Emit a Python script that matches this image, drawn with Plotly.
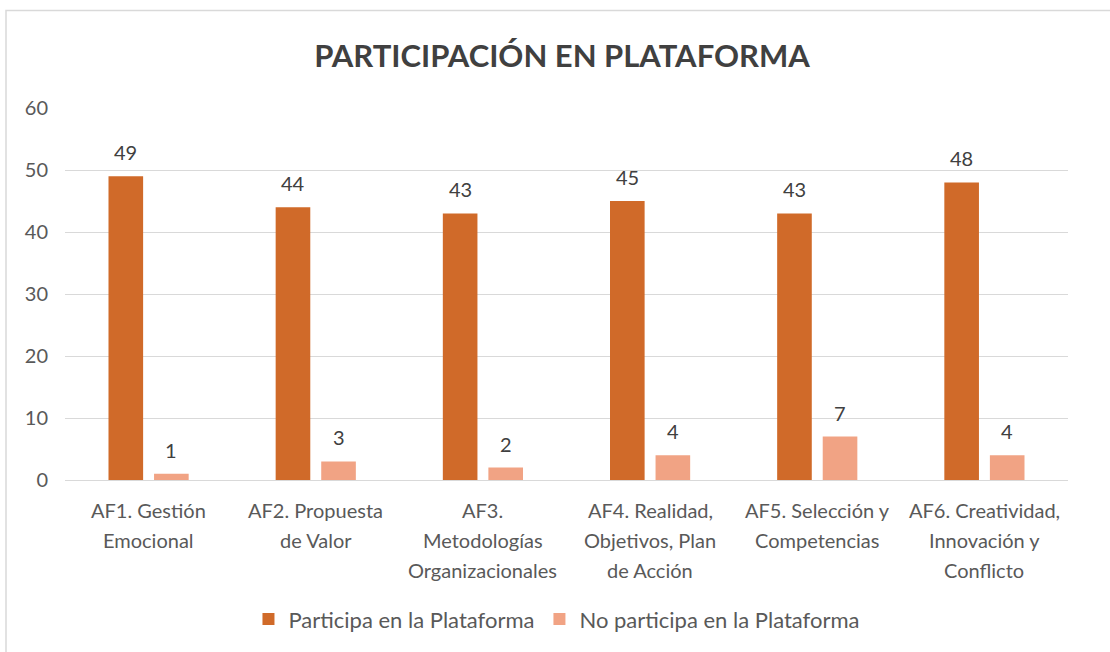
import plotly.graph_objects as go

categories = ["AF1", "AF2", "AF3", "AF4", "AF5", "AF6"]
category_labels = [
    ["AF1. Gestión", "Emocional"],
    ["AF2. Propuesta", "de Valor"],
    ["AF3.", "Metodologías", "Organizacionales"],
    ["AF4. Realidad,", "Objetivos, Plan", "de Acción"],
    ["AF5. Selección y", "Competencias"],
    ["AF6. Creatividad,", "Innovación y", "Conflicto"],
]
participa = [49, 44, 43, 45, 43, 48]
no_participa = [1, 3, 2, 4, 7, 4]
series_names = ["Participa en la Plataforma", "No participa en la Plataforma"]
y_ticks = [0, 10, 20, 30, 40, 50, 60]

W, H = 1110, 652
# plot area in pixels: x 65..1068, y 108..482
L, T = 65, 108
R = W - 1068
B = H - 482
FONT = "Lato"
GRAY = "#595959"
DARK = "#404040"
ORANGE = "#D06A29"
PINK = "#F1A384"

fig = go.Figure()
fig.add_trace(go.Bar(x=categories, y=participa, name=series_names[0],
                     marker=dict(color=ORANGE, line=dict(width=0))))
fig.add_trace(go.Bar(x=categories, y=no_participa, name=series_names[1],
                     marker=dict(color=PINK, line=dict(width=0))))

annotations = []
# data labels
for vals, shift in ((participa, -22.75), (no_participa, 22.75)):
    for c, v in zip(categories, vals):
        annotations.append(dict(x=c, y=v, xref="x", yref="y", text=str(v),
                                showarrow=False, xshift=shift, yshift=24,
                                yanchor="middle",
                                font=dict(family=FONT, size=20, color=DARK)))
# category labels (multi-line, wider line spacing)
for c, lines in zip(categories, category_labels):
    for i, line in enumerate(lines):
        annotations.append(dict(x=c, y=0, xref="x", yref="paper", text=line,
                                showarrow=False, yanchor="middle",
                                yshift=-30 - 30 * i,
                                font=dict(family=FONT, size=20, color=GRAY)))

pw = W - L - R
ph = H - T - B
def px_x(p):  # pixel -> paper
    return (p - L) / pw
def px_y(p):
    return (H - B - p) / ph

fig.update_layout(
    width=W, height=H,
    margin=dict(l=L, r=R, t=T, b=B),
    paper_bgcolor="white", plot_bgcolor="white",
    font=dict(family=FONT, size=20, color=GRAY),
    title=dict(text="<b>PARTICIPACIÓN EN PLATAFORMA</b>",
               x=562 / W, xanchor="center", xref="container",
               y=1 - 56 / H, yanchor="middle", yref="container",
               font=dict(family=FONT, size=31, color=DARK)),
    barmode="group", bargap=0.455, bargroupgap=0.24,
    showlegend=True,
    legend=dict(orientation="h", x=0.49, xanchor="center",
                y=px_y(622), yanchor="middle",
                font=dict(family=FONT, size=22, color=GRAY),
                itemwidth=30, traceorder="normal"),
    xaxis=dict(showticklabels=False, showgrid=False, showline=False,
               zeroline=False, ticks=""),
    yaxis=dict(range=[0, 60], tickvals=y_ticks, showgrid=True,
               gridcolor="#D9D9D9", gridwidth=1, zeroline=True,
               zerolinecolor="#D9D9D9", zerolinewidth=1, showline=False,
               ticks="", ticklabelstandoff=16,
               tickfont=dict(family=FONT, size=20, color=GRAY)),
    annotations=annotations,
    shapes=[dict(type="rect", xref="paper", yref="paper",
                 x0=px_x(6), x1=px_x(1125), y0=px_y(665), y1=px_y(10),
                 line=dict(color="#D9D9D9", width=1.5), layer="below")],
)

fig.write_html("out.html",
               config={"displayModeBar": False},
               post_script="document.body.style.margin='0px';"
                           "document.documentElement.style.overflow='hidden';")
